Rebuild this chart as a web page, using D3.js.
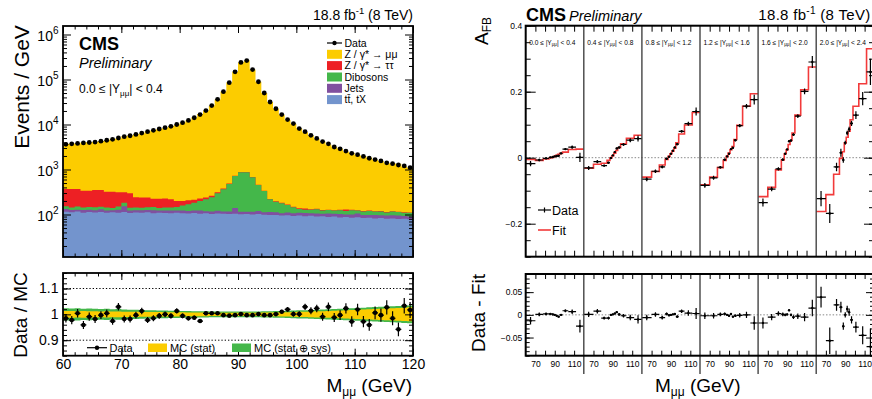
<!DOCTYPE html>
<html>
<head>
<meta charset="utf-8">
<script src="https://cdn.jsdelivr.net/npm/d3@7/dist/d3.min.js"></script>
<style>
html,body{margin:0;padding:0;background:#fff;}
svg{display:block;}
</style>
</head>
<body>
<svg id="chart" width="872" height="399"></svg>
<script>
// ================= DATA =================
// Left panel: 1 GeV mass bins from 60 to 120 GeV
const massBinLow = d3.range(60, 120);
const dataEvents = [3630,3720,3800,3890,3980,4070,4270,4470,4680,5010,
  5370,5620,6030,6460,6920,7410,7940,8510,9120,10000,
  10960,12300,14130,16600,20420,26300,36300,53700,85100,147900,
  239900,263000,166000,89100,50100,31600,22400,16600,12900,10470,
  8130,6920,5750,4900,4170,3720,3160,2880,2570,2290,
  2140,1950,1780,1660,1550,1410,1350,1260,1200,1100];
const ratioDataMC = [0.985,0.978,1.004,0.959,0.991,0.982,0.997,1.004,0.974,1.029,
  0.982,0.982,0.997,1.013,0.978,0.985,0.994,1.000,0.994,1.013,
  0.994,0.985,0.987,0.974,1.004,1.004,1.004,0.997,0.995,0.997,
  1.001,0.997,0.997,1.001,0.997,0.997,1.001,1.010,1.019,1.001,
  1.001,1.029,1.014,1.023,0.991,1.029,0.988,0.997,1.023,0.972,
  1.019,0.972,0.959,1.006,0.997,1.027,0.985,0.942,1.033,1.017];
const ttbarTX = [115,112,116,110,113,111,114,109,112,110,
  113,108,111,109,112,107,110,108,106,109,
  107,105,108,104,106,103,105,104,102,104,
  101,103,100,102,99,97,98,95,96,93,
  95,92,94,90,91,88,90,86,88,85,
  87,84,85,82,84,80,82,79,80,78];
const jetsBkg = [18,14,12,16,15,13,17,14,12,18,
  40,15,13,16,14,18,12,15,17,13,
  16,14,15,18,12,14,16,13,15,35,
  14,12,15,18,13,16,14,12,15,13,
  14,16,12,15,13,17,14,16,12,15,
  18,14,13,16,12,15,14,16,13,12];
const dibosons = [20,18,22,17,19,21,18,20,16,22,
  30,18,20,17,19,22,18,21,20,24,
  35,51,59,78,99,124,175,246,359,579,
  752,752,558,333,220,104,80,70,52,39,
  24,20,22,26,19,21,18,23,20,25,
  17,19,22,18,21,16,20,18,17,19];
const ztautau = [216,225,219,195,191,205,201,178,181,162,
  129,155,97,97,94,77,84,83,74,54,
  42,38,32,26,22,20,18,15,12,10,
  8,8,7,6,5,5,5,5,4,4,
  4,8,3,3,3,2,2,2,9,2,
  2,2,2,2,2,2,2,2,2,2];
const mcStatErr = [0.013,0.013,0.012,0.013,0.012,0.012,0.011,0.012,0.011,0.011,
  0.010,0.010,0.010,0.009,0.009,0.009,0.009,0.008,0.008,0.008,
  0.008,0.007,0.007,0.007,0.007,0.006,0.006,0.006,0.006,0.006,
  0.006,0.006,0.006,0.006,0.007,0.007,0.007,0.008,0.008,0.009,
  0.010,0.010,0.011,0.012,0.012,0.013,0.014,0.015,0.016,0.017,
  0.018,0.019,0.020,0.021,0.022,0.023,0.024,0.025,0.026,0.027];
const mcTotErr = [0.024,0.023,0.024,0.022,0.023,0.022,0.021,0.022,0.020,0.021,
  0.019,0.018,0.018,0.017,0.016,0.016,0.015,0.015,0.014,0.014,
  0.013,0.013,0.012,0.012,0.012,0.011,0.011,0.011,0.011,0.011,
  0.011,0.011,0.011,0.011,0.012,0.012,0.013,0.013,0.014,0.015,
  0.016,0.016,0.017,0.018,0.019,0.020,0.021,0.022,0.023,0.024,
  0.025,0.026,0.027,0.028,0.029,0.030,0.031,0.032,0.033,0.034];
const leftXTicks = [60,70,80,90,100,110,120];
const leftYDecades = [2,3,4,5,6];
const ratioYTicks = [0.9,1.0,1.1];
const stackLabels = ["Z / γ* → μμ","Z / γ* → ττ","Dibosons","Jets","tt\u0304, tX"];

// Right panel: A_FB in 6 rapidity bins x 12 mass bins
const afbMassEdges = [60,70,78,84,87,89,91,93,95,98,104,112,120];
const rapidityEdges = ["0.0","0.4","0.8","1.2","1.6","2.0","2.4"];
const afbFit = [
  [-0.005,-0.008,-0.004,-0.001,0.001,0.004,0.007,0.010,0.013,0.017,0.025,0.026],
  [-0.032,-0.020,-0.017,-0.008,-0.001,0.006,0.014,0.022,0.030,0.042,0.059,0.068],
  [-0.059,-0.042,-0.022,-0.005,0.004,0.012,0.020,0.029,0.045,0.072,0.099,0.137],
  [-0.082,-0.059,-0.030,-0.008,0.004,0.014,0.024,0.034,0.055,0.098,0.156,0.194],
  [-0.118,-0.090,-0.037,-0.007,0.012,0.024,0.040,0.052,0.075,0.129,0.206,0.275],
  [-0.163,-0.112,-0.050,-0.002,0.018,0.045,0.062,0.080,0.115,0.156,0.224,0.330]];
const afbResidual = [
  [-0.013,0.001,0.002,0.002,0.001,0.000,-0.002,-0.004,0.000,0.009,0.007,-0.025],
  [0.001,0.008,-0.007,-0.007,0.000,0.001,0.003,0.006,0.001,-0.002,-0.006,-0.010],
  [-0.006,0.001,-0.006,0.002,-0.001,0.000,0.001,0.002,-0.004,0.008,0.004,0.003],
  [-0.002,-0.002,0.001,0.002,0.000,-0.002,0.002,-0.004,-0.002,-0.001,0.000,-0.018],
  [-0.018,-0.005,0.003,0.001,0.000,0.001,0.010,0.000,-0.005,-0.003,-0.005,0.015],
  [0.039,-0.057,0.022,0.017,-0.025,0.000,0.013,0.006,-0.011,-0.027,-0.045,-0.070]];
const afbErr = [
  [0.008,0.004,0.003,0.002,0.002,0.0015,0.0015,0.002,0.002,0.003,0.005,0.014],
  [0.006,0.005,0.003,0.003,0.002,0.0015,0.0015,0.002,0.003,0.004,0.006,0.009],
  [0.006,0.005,0.004,0.003,0.002,0.0015,0.0015,0.002,0.003,0.004,0.006,0.012],
  [0.007,0.006,0.004,0.003,0.002,0.002,0.002,0.002,0.003,0.005,0.007,0.015],
  [0.012,0.007,0.005,0.004,0.003,0.002,0.002,0.003,0.004,0.006,0.009,0.018],
  [0.023,0.029,0.013,0.012,0.008,0.006,0.007,0.008,0.008,0.012,0.020,0.040]];
const afbYTicks = [-0.2,0,0.2,0.4];
const residYTicks = [-0.05,0,0.05];
const segXTicks = [70,80,90,100,110];
const segXLabels = [70,90,110];

// ================= DRAWING =================
const FONT = '"Liberation Sans", Arial, Helvetica, sans-serif';
const svg = d3.select("#chart").attr("font-family", FONT);
const COL = {yellow:"#FCCC00", red:"#ED2024", green:"#44B74A", purple:"#80509F", blue:"#7394CD"};
const defs = svg.append("defs");

function styleAxis(g, fs){
  g.select(".domain").remove();
  g.selectAll(".tick line").attr("stroke","#000").attr("stroke-width",1);
  g.selectAll(".tick text").attr("font-family",FONT).attr("font-size",fs||10).attr("fill","#000");
  return g;
}
function addAxis(parent, axis, tx, ty, fs){
  const g = parent.append("g").attr("transform",`translate(${tx},${ty})`).call(axis);
  return styleAxis(g, fs);
}
function clip(id, x, y, w, h){
  defs.append("clipPath").attr("id",id).append("rect").attr("x",x).attr("y",y).attr("width",w).attr("height",h);
  return `url(#${id})`;
}

// ---------- LEFT TOP ----------
const LT = {x0:63, x1:413, y0:26, y1:257};
const xL = d3.scaleLinear().domain([60,120]).range([LT.x0, LT.x1]);
const yL = d3.scaleLog().domain([Math.pow(10,1.0556), Math.pow(10,6.189)]).range([LT.y1, LT.y0]);

const cumBlue = ttbarTX.slice();
const cumPurple = cumBlue.map((v,i)=>v+jetsBkg[i]);
const cumGreen = cumPurple.map((v,i)=>v+dibosons[i]);
const cumRed = cumGreen.map((v,i)=>v+ztautau[i]);
const mcTotal = dataEvents.map((v,i)=>v/ratioDataMC[i]);
const zmumu = mcTotal.map((v,i)=>v-cumRed[i]);
const cumYellow = cumRed.map((v,i)=>v+zmumu[i]);

const stepPts = arr => massBinLow.map((m,i)=>[m,arr[i]]).concat([[120, arr[arr.length-1]]]);
const gLT = svg.append("g").attr("clip-path", clip("clipLT", LT.x0, LT.y0, LT.x1-LT.x0, LT.y1-LT.y0));
const stackArea = d3.area().curve(d3.curveStepAfter).x(d=>xL(d[0])).y0(LT.y1).y1(d=>yL(d[1]));
[[cumYellow,COL.yellow],[cumRed,COL.red],[cumGreen,COL.green],[cumPurple,COL.purple],[cumBlue,COL.blue]]
  .forEach(([arr,c])=>{ gLT.append("path").attr("d", stackArea(stepPts(arr))).attr("fill",c).attr("stroke","none"); });
gLT.selectAll("circle.d").data(dataEvents).join("circle")
  .attr("cx",(d,i)=>xL(massBinLow[i]+0.5)).attr("cy",d=>yL(d)).attr("r",2.4).attr("fill","#000");

// ticks left top
const minorLog = [];
for (let k=1;k<=6;k++) for (let m=2;m<=9;m++){ const v=m*Math.pow(10,k); if (v>=yL.domain()[0] && v<=yL.domain()[1]) minorLog.push(v); }
const majorLog = leftYDecades.map(k=>Math.pow(10,k));
addAxis(svg, d3.axisBottom(xL).tickValues(leftXTicks).tickSize(-7).tickFormat(""), 0, LT.y1);
addAxis(svg, d3.axisBottom(xL).tickValues(d3.range(60,121,2)).tickSize(-3.5).tickFormat(""), 0, LT.y1);
addAxis(svg, d3.axisTop(xL).tickValues(leftXTicks).tickSize(-7).tickFormat(""), 0, LT.y0);
addAxis(svg, d3.axisTop(xL).tickValues(d3.range(60,121,2)).tickSize(-3.5).tickFormat(""), 0, LT.y0);
addAxis(svg, d3.axisLeft(yL).tickValues(majorLog).tickSize(-8).tickFormat(""), LT.x0, 0);
addAxis(svg, d3.axisLeft(yL).tickValues(minorLog).tickSize(-4).tickFormat(""), LT.x0, 0);
addAxis(svg, d3.axisRight(yL).tickValues(majorLog).tickSize(-8).tickFormat(""), LT.x1, 0);
addAxis(svg, d3.axisRight(yL).tickValues(minorLog).tickSize(-4).tickFormat(""), LT.x1, 0);
const yLab = svg.selectAll("text.ylog").data(leftYDecades).join("text")
  .attr("x",58.5).attr("y",k=>yL(Math.pow(10,k))+6).attr("text-anchor","end").attr("font-size",14);
yLab.append("tspan").text("10");
yLab.append("tspan").attr("font-size",10).attr("dy",-6.5).text(k=>k);
svg.append("rect").attr("x",LT.x0).attr("y",LT.y0).attr("width",LT.x1-LT.x0).attr("height",LT.y1-LT.y0)
  .attr("fill","none").attr("stroke","#000").attr("stroke-width",1.8);

// left top texts
svg.append("text").attr("x",79).attr("y",50).attr("font-size",18).attr("font-weight","bold").text("CMS");
svg.append("text").attr("x",79).attr("y",68).attr("font-size",14.5).attr("font-style","italic").text("Preliminary");
const yt = svg.append("text").attr("x",79).attr("y",93).attr("font-size",12);
yt.append("tspan").text("0.0 ≤ |Y");
yt.append("tspan").attr("font-size",8).attr("dy",3).text("μμ");
yt.append("tspan").attr("dy",-3).text("| < 0.4");
const lumiL = svg.append("text").attr("x",413).attr("y",20).attr("text-anchor","end").attr("font-size",14);
lumiL.append("tspan").text("18.8 fb");
lumiL.append("tspan").attr("font-size",9.5).attr("dy",-6).text("-1");
lumiL.append("tspan").attr("dy",6).text(" (8 TeV)");

// legend left top
const legRowY = [43,54.3,65.6,77,88.3,99.6];
svg.append("line").attr("x1",327).attr("x2",342).attr("y1",legRowY[0]).attr("y2",legRowY[0]).attr("stroke","#000").attr("stroke-width",1.2);
svg.append("circle").attr("cx",334.5).attr("cy",legRowY[0]).attr("r",2.2).attr("fill","#000");
svg.append("text").attr("x",344.5).attr("y",legRowY[0]+3.8).attr("font-size",10.5).text("Data");
const stackColors = [COL.yellow,COL.red,COL.green,COL.purple,COL.blue];
stackLabels.forEach((lab,i)=>{
  const cy = legRowY[i+1];
  svg.append("rect").attr("x",327).attr("y",cy-4.5).attr("width",15).attr("height",9).attr("fill",stackColors[i]);
  svg.append("text").attr("x",344.5).attr("y",cy+3.8).attr("font-size",10.5).text(lab);
});

// Y title left
svg.append("text").attr("transform","translate(29,87) rotate(-90)").attr("text-anchor","middle").attr("font-size",21).text("Events / GeV");

// ---------- LEFT RATIO ----------
const LR = {y0:273, y1:355.7};
const yR = d3.scaleLinear().domain([0.84,1.16]).range([LR.y1, LR.y0]);
const gLR = svg.append("g").attr("clip-path", clip("clipLR", LT.x0, LR.y0, LT.x1-LT.x0, LR.y1-LR.y0));
const bandArea = () => d3.area().curve(d3.curveStepAfter).x(d=>xL(d[0])).y0(d=>yR(1-d[1])).y1(d=>yR(1+d[1]));
gLR.append("path").attr("d", bandArea()(stepPts(mcTotErr))).attr("fill",COL.green);
gLR.append("path").attr("d", bandArea()(stepPts(mcStatErr))).attr("fill",COL.yellow);
[1.1,0.9].forEach(v=>{
  gLR.append("line").attr("x1",LT.x0).attr("x2",LT.x1).attr("y1",yR(v)).attr("y2",yR(v))
    .attr("stroke","#000").attr("stroke-width",1).attr("stroke-dasharray","1.3,2");
});
const rErr = dataEvents.map((n,i)=>ratioDataMC[i]/Math.sqrt(n));
const pts = gLR.selectAll("g.rp").data(ratioDataMC).join("g");
pts.append("line").attr("x1",(d,i)=>xL(massBinLow[i]+0.5)).attr("x2",(d,i)=>xL(massBinLow[i]+0.5))
  .attr("y1",(d,i)=>yR(d-rErr[i])).attr("y2",(d,i)=>yR(d+rErr[i])).attr("stroke","#000").attr("stroke-width",1.2);
pts.append("line").attr("x1",(d,i)=>xL(massBinLow[i])).attr("x2",(d,i)=>xL(massBinLow[i]+1))
  .attr("y1",d=>yR(d)).attr("y2",d=>yR(d)).attr("stroke","#000").attr("stroke-width",1.2);
pts.append("circle").attr("cx",(d,i)=>xL(massBinLow[i]+0.5)).attr("cy",d=>yR(d)).attr("r",2.3).attr("fill","#000");

addAxis(svg, d3.axisBottom(xL).tickValues(leftXTicks).tickSize(-7).tickPadding(3.5).tickFormat(d3.format("d")), 0, LR.y1, 14);
addAxis(svg, d3.axisBottom(xL).tickValues(d3.range(60,121,2)).tickSize(-3.5).tickFormat(""), 0, LR.y1);
addAxis(svg, d3.axisTop(xL).tickValues(leftXTicks).tickSize(-7).tickFormat(""), 0, LR.y0);
addAxis(svg, d3.axisTop(xL).tickValues(d3.range(60,121,2)).tickSize(-3.5).tickFormat(""), 0, LR.y0);
const rMinor = d3.range(42,59).map(v=>v/50);
addAxis(svg, d3.axisLeft(yR).tickValues(ratioYTicks).tickSize(-8).tickPadding(4.5).tickFormat(d=>d===1?"1":d3.format(".1f")(d)), LT.x0, 0, 14);
addAxis(svg, d3.axisLeft(yR).tickValues(rMinor).tickSize(-4).tickFormat(""), LT.x0, 0);
addAxis(svg, d3.axisRight(yR).tickValues(ratioYTicks).tickSize(-8).tickFormat(""), LT.x1, 0);
addAxis(svg, d3.axisRight(yR).tickValues(rMinor).tickSize(-4).tickFormat(""), LT.x1, 0);
svg.append("rect").attr("x",LT.x0).attr("y",LR.y0).attr("width",LT.x1-LT.x0).attr("height",LR.y1-LR.y0)
  .attr("fill","none").attr("stroke","#000").attr("stroke-width",1.8);

// ratio legend
svg.append("line").attr("x1",87).attr("x2",107).attr("y1",347.7).attr("y2",347.7).attr("stroke","#000").attr("stroke-width",1.2);
svg.append("circle").attr("cx",97).attr("cy",347.7).attr("r",2.2).attr("fill","#000");
svg.append("text").attr("x",109.5).attr("y",351.7).attr("font-size",11).text("Data");
svg.append("rect").attr("x",148).attr("y",343.5).attr("width",19).attr("height",8.5).attr("fill",COL.yellow);
svg.append("text").attr("x",170).attr("y",351.7).attr("font-size",11).text("MC (stat)");
svg.append("rect").attr("x",232).attr("y",343.5).attr("width",19).attr("height",8.5).attr("fill",COL.green);
svg.append("text").attr("x",254).attr("y",351.7).attr("font-size",11).text("MC (stat ⊕ sys)");

svg.append("text").attr("transform","translate(27,315) rotate(-90)").attr("text-anchor","middle").attr("font-size",19).text("Data / MC");
const xtL = svg.append("text").attr("x",412).attr("y",392).attr("text-anchor","end").attr("font-size",19);
xtL.append("tspan").text("M");
xtL.append("tspan").attr("font-size",12).attr("dy",3.5).text("μμ");
xtL.append("tspan").attr("dy",-3.5).text(" (GeV)");

// ---------- RIGHT TOP ----------
const RT = {x0:525.7, y0:25.7, y1:256.7, segW:58.1, xEnd:874};
const RB = {y0:274, y1:355.7};
const yA = d3.scaleLinear().domain([-0.3,0.4]).range([RT.y1, RT.y0]);
const yD = d3.scaleLinear().domain([-0.09,0.09]).range([RB.y1, RB.y0]);
const segScale = k => d3.scaleLinear().domain([60,120]).range([RT.x0+k*RT.segW, RT.x0+(k+1)*RT.segW]);

const gRT = svg.append("g").attr("clip-path", clip("clipRT", RT.x0, RT.y0, RT.xEnd-RT.x0, RT.y1-RT.y0));
const gRB = svg.append("g").attr("clip-path", clip("clipRB", RT.x0, RB.y0, RT.xEnd-RT.x0, RB.y1-RB.y0));
gRT.append("line").attr("x1",RT.x0).attr("x2",RT.xEnd).attr("y1",yA(0)).attr("y2",yA(0)).attr("stroke","#888").attr("stroke-width",1).attr("stroke-dasharray","1.5,1.8");
gRB.append("line").attr("x1",RT.x0).attr("x2",RT.xEnd).attr("y1",yD(0)).attr("y2",yD(0)).attr("stroke","#888").attr("stroke-width",1).attr("stroke-dasharray","1.5,1.8");

const centers = afbMassEdges.slice(0,-1).map((m,j)=>(m+afbMassEdges[j+1])/2);
afbFit.forEach((fit,k)=>{
  const xs = segScale(k);
  const line = d3.line().curve(d3.curveStepAfter).x(d=>xs(d[0])).y(d=>yA(d[1]));
  const fpts = afbMassEdges.map((m,j)=>[m, fit[Math.min(j, fit.length-1)]]);
  gRT.append("path").attr("d", line(fpts)).attr("fill","none").attr("stroke","#F23A3A").attr("stroke-width",1.6);
  const dataV = fit.map((f,j)=>f+afbResidual[k][j]);
  [[gRT, yA, dataV],[gRB, yD, afbResidual[k]]].forEach(([g, ys, vals])=>{
    const gp = g.append("g");
    vals.forEach((v,j)=>{
      const e = afbErr[k][j];
      gp.append("line").attr("x1",xs(centers[j])).attr("x2",xs(centers[j])).attr("y1",ys(v-e)).attr("y2",ys(v+e)).attr("stroke","#000").attr("stroke-width",1.2);
      gp.append("line").attr("x1",xs(afbMassEdges[j])).attr("x2",xs(afbMassEdges[j+1])).attr("y1",ys(v)).attr("y2",ys(v)).attr("stroke","#000").attr("stroke-width",1.2);
      gp.append("circle").attr("cx",xs(centers[j])).attr("cy",ys(v)).attr("r",1.2).attr("fill","#000");
    });
  });
  // x ticks
  addAxis(svg, d3.axisBottom(xs).tickValues(segXTicks).tickSize(-6).tickFormat(""), 0, RT.y1);
  addAxis(svg, d3.axisTop(xs).tickValues(segXTicks).tickSize(-6).tickFormat(""), 0, RT.y0);
  addAxis(svg, d3.axisBottom(xs).tickValues(segXTicks).tickSize(-5).tickPadding(5.5)
    .tickFormat(d=>segXLabels.includes(d)?String(d):""), 0, RB.y1, 8.5);
  addAxis(svg, d3.axisTop(xs).tickValues(segXTicks).tickSize(-5).tickFormat(""), 0, RB.y0);
  // segment label
  const st = svg.append("text").attr("x",RT.x0+k*RT.segW+3.5).attr("y",44.5).attr("font-size",6.6);
  st.append("tspan").text(`${rapidityEdges[k]} ≤ |Y`);
  st.append("tspan").attr("font-size",4.5).attr("dy",1.8).text("μμ");
  st.append("tspan").attr("dy",-1.8).text(`| < ${rapidityEdges[k+1]}`);
  // segment divider
  if (k>0){
    const xb = RT.x0+k*RT.segW;
    svg.append("line").attr("x1",xb).attr("x2",xb).attr("y1",RT.y0).attr("y2",RT.y1).attr("stroke","#444").attr("stroke-width",1.4);
    svg.append("line").attr("x1",xb).attr("x2",xb).attr("y1",RB.y0).attr("y2",374).attr("stroke","#444").attr("stroke-width",1.4);
  }
});

const fmtSigned = f => (d => d===0 ? "0" : (d<0 ? "\u2212"+d3.format(f)(-d) : d3.format(f)(d)));
addAxis(svg, d3.axisLeft(yA).tickValues(afbYTicks).tickSize(-10).tickPadding(3.5).tickFormat(fmtSigned(".1f")), RT.x0, 0, 8.5);
addAxis(svg, d3.axisLeft(yA).tickValues(d3.range(-6,9).map(v=>v*0.05)).tickSize(-5).tickFormat(""), RT.x0, 0);
addAxis(svg, d3.axisRight(yA).tickValues(afbYTicks).tickSize(-10).tickFormat(""), RT.xEnd, 0);
addAxis(svg, d3.axisRight(yA).tickValues(d3.range(-6,9).map(v=>v*0.05)).tickSize(-5).tickFormat(""), RT.xEnd, 0);
addAxis(svg, d3.axisLeft(yD).tickValues(residYTicks).tickSize(-8).tickPadding(3.5).tickFormat(fmtSigned(".2f")), RT.x0, 0, 8.5);
addAxis(svg, d3.axisLeft(yD).tickValues(d3.range(-9,10).map(v=>v*0.01)).tickSize(-4).tickFormat(""), RT.x0, 0);
addAxis(svg, d3.axisRight(yD).tickValues(residYTicks).tickSize(-8).tickFormat(""), RT.xEnd, 0);
addAxis(svg, d3.axisRight(yD).tickValues(d3.range(-9,10).map(v=>v*0.01)).tickSize(-4).tickFormat(""), RT.xEnd, 0);
svg.append("rect").attr("x",RT.x0).attr("y",RT.y0).attr("width",RT.xEnd-RT.x0).attr("height",RT.y1-RT.y0)
  .attr("fill","none").attr("stroke","#000").attr("stroke-width",2);
svg.append("rect").attr("x",RT.x0).attr("y",RB.y0).attr("width",RT.xEnd-RT.x0).attr("height",RB.y1-RB.y0)
  .attr("fill","none").attr("stroke","#000").attr("stroke-width",2);

// legend right
svg.append("line").attr("x1",538).attr("x2",551).attr("y1",210).attr("y2",210).attr("stroke","#000").attr("stroke-width",1.2);
svg.append("line").attr("x1",544.5).attr("x2",544.5).attr("y1",207.5).attr("y2",212.5).attr("stroke","#000").attr("stroke-width",1.2);
svg.append("text").attr("x",552).attr("y",214.5).attr("font-size",12.5).text("Data");
svg.append("line").attr("x1",538).attr("x2",551).attr("y1",230).attr("y2",230).attr("stroke","#F23A3A").attr("stroke-width",1.6);
svg.append("text").attr("x",552).attr("y",234.5).attr("font-size",12.5).text("Fit");

// right texts
svg.append("text").attr("x",526).attr("y",21).attr("font-size",18).attr("font-weight","bold").text("CMS");
svg.append("text").attr("x",569).attr("y",21).attr("font-size",14.5).attr("font-style","italic").text("Preliminary");
const lumiR = svg.append("text").attr("x",870.5).attr("y",20).attr("text-anchor","end").attr("font-size",15).attr("letter-spacing",0.3);
lumiR.append("tspan").text("18.8 fb");
lumiR.append("tspan").attr("font-size",10).attr("dy",-6).text("-1");
lumiR.append("tspan").attr("dy",6).text(" (8 TeV)");
const afbT = svg.append("text").attr("transform","translate(488,31) rotate(-90)").attr("text-anchor","middle").attr("font-size",19);
afbT.append("tspan").text("A");
afbT.append("tspan").attr("font-size",12).attr("dy",3).text("FB");
svg.append("text").attr("transform","translate(485,313) rotate(-90)").attr("text-anchor","middle").attr("font-size",19).text("Data - Fit");
const xtR = svg.append("text").attr("x",655).attr("y",392).attr("font-size",19);
xtR.append("tspan").text("M");
xtR.append("tspan").attr("font-size",12).attr("dy",3.5).text("μμ");
xtR.append("tspan").attr("dy",-3.5).text(" (GeV)");
</script>
</body>
</html>
